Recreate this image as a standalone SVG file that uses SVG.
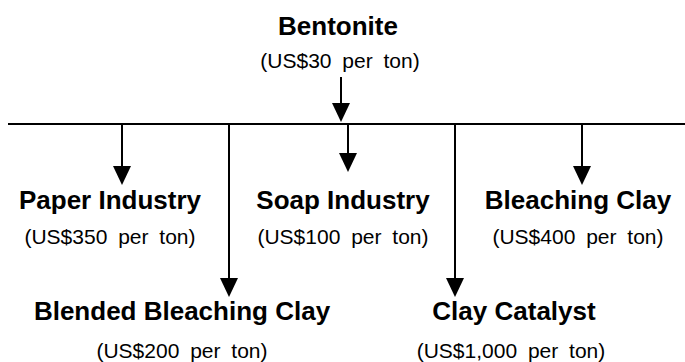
<svg xmlns="http://www.w3.org/2000/svg" width="685" height="362" viewBox="0 0 685 362">
<defs>
<style>
.t{font-family:"Liberation Sans",Arial,sans-serif;font-weight:bold;font-size:26px;text-anchor:middle;fill:#000}
.p{font-family:"Liberation Sans",Arial,sans-serif;font-size:21px;word-spacing:5px;text-anchor:middle;fill:#000}
.c{stroke:#000;stroke-width:2;fill:none}
</style>
</defs>
<rect width="685" height="362" fill="#fff"/>
<g id="connectors">
<line class="c" x1="8" y1="124" x2="685" y2="124"/>
<line class="c" x1="341" y1="77" x2="341" y2="104"/>
<path d="M332,103 L350,103 L341,122 Z"/>
<line class="c" x1="122" y1="124" x2="122" y2="167"/>
<path d="M113,166 L131,166 L122,185 Z"/>
<line class="c" x1="229" y1="124" x2="229" y2="279"/>
<path d="M220,278 L238,278 L229,297 Z"/>
<line class="c" x1="348" y1="124" x2="348" y2="154"/>
<path d="M339,153 L357,153 L348,172 Z"/>
<line class="c" x1="455" y1="124" x2="455" y2="279"/>
<path d="M446,278 L464,278 L455,297 Z"/>
<line class="c" x1="582" y1="124" x2="582" y2="167"/>
<path d="M573,166 L591,166 L582,185 Z"/>
</g>
<g id="bentonite">
<text class="t" x="338" y="35">Bentonite</text>
<text class="p" x="340" y="68">(US$30 per ton)</text>
</g>
<g id="paper">
<text class="t" x="110" y="209">Paper Industry</text>
<text class="p" x="110" y="244">(US$350 per ton)</text>
</g>
<g id="soap">
<text class="t" x="343" y="209">Soap Industry</text>
<text class="p" x="343" y="244">(US$100 per ton)</text>
</g>
<g id="bleaching">
<text class="t" x="578" y="209">Bleaching Clay</text>
<text class="p" x="578" y="244">(US$400 per ton)</text>
</g>
<g id="blended">
<text class="t" x="182" y="320">Blended Bleaching Clay</text>
<text class="p" x="182" y="358">(US$200 per ton)</text>
</g>
<g id="catalyst">
<text class="t" x="514" y="320">Clay Catalyst</text>
<text class="p" x="511" y="358">(US$1,000 per ton)</text>
</g>
</svg>
